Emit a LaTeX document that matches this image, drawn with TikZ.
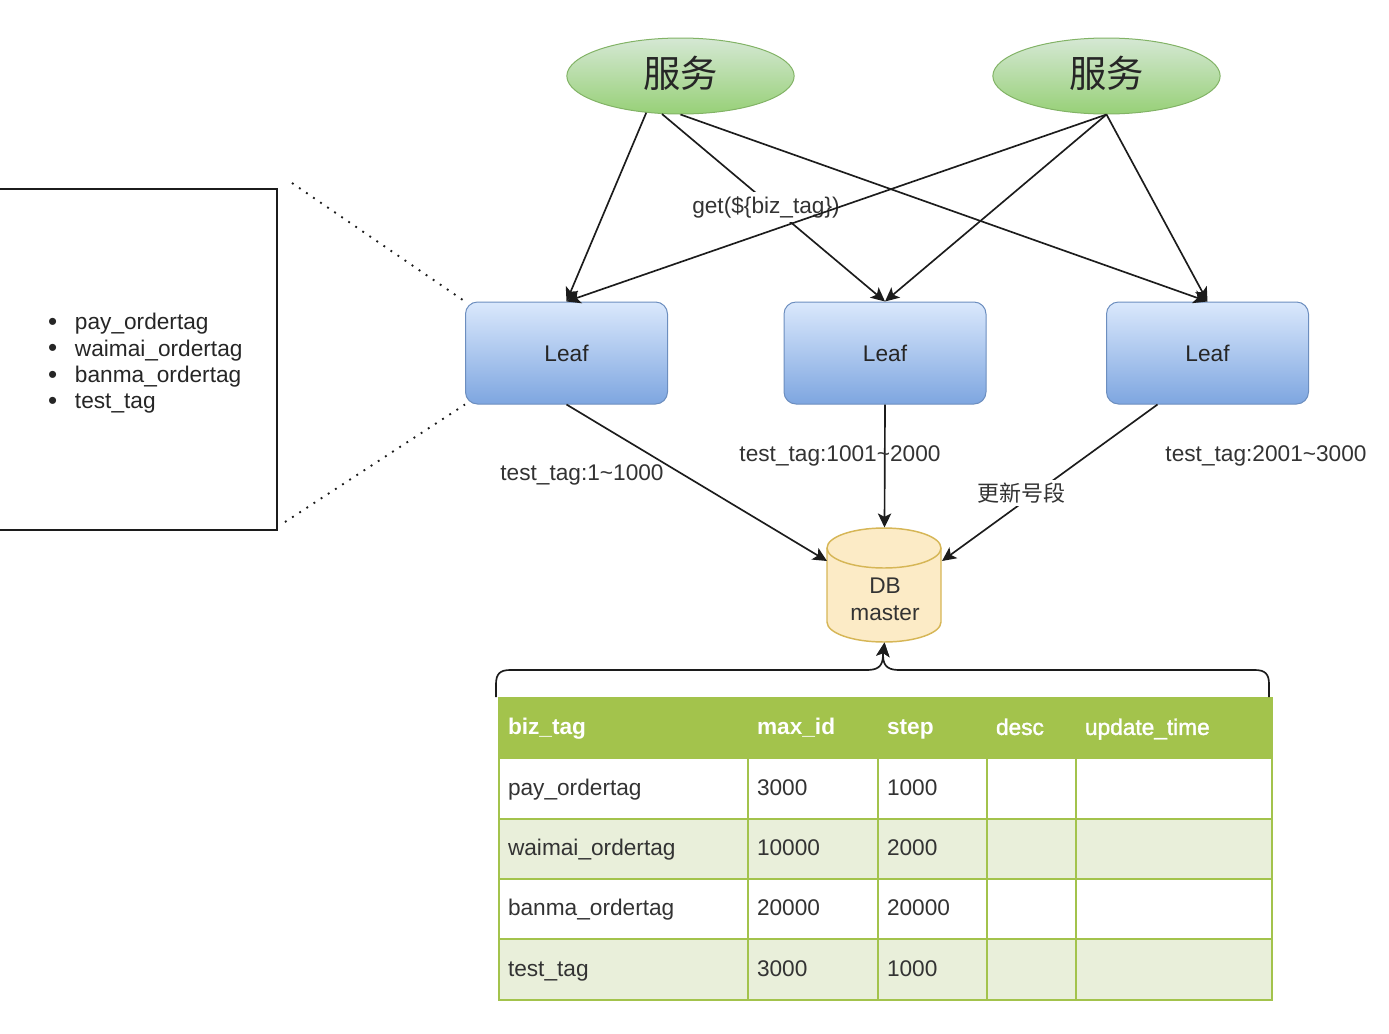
\documentclass[tikz,border=0pt]{standalone}
\usepackage{fontspec}
\setmainfont{Liberation Sans}
\newfontfamily\cjk{Noto Sans CJK SC}
\newfontface\fakebold[FakeBold=1.6]{Liberation Sans}
\usetikzlibrary{shapes.geometric,arrows.meta}
\definecolor{linecol}{HTML}{1C1C1C}
\definecolor{hdrgreen}{HTML}{A3C34C}
\definecolor{rowgreen}{HTML}{E9EFDA}
\definecolor{cellline}{HTML}{A3C34C}
\definecolor{svctop}{HTML}{D5E8D4}
\definecolor{svcbot}{HTML}{97D077}
\definecolor{svcline}{HTML}{82B366}
\definecolor{leaftop}{HTML}{DAE8FC}
\definecolor{leafbot}{HTML}{7EA6E0}
\definecolor{leafline}{HTML}{6C8EBF}
\definecolor{dbfill}{HTML}{FCEBC6}
\definecolor{dbline}{HTML}{D6B656}
\newcommand{\bigbullet}{\raisebox{-0.5pt}{\fontsize{19.5}{19.5}\selectfont\textbullet}\hspace{13.4pt}}
\tikzset{every picture/.style={line width=0.75pt},
  svc/.style={ellipse,draw=svcline,top color=svctop,bottom color=svcbot,minimum width=170.5pt,minimum height=57pt,inner sep=0pt,text height=24pt,text depth=7pt,font=\fontsize{28}{30}\selectfont\cjk,text=black!85},
  leaf/.style={rectangle,rounded corners=9pt,draw=leafline,top color=leaftop,bottom color=leafbot,minimum width=151.5pt,minimum height=76.5pt,inner sep=0pt,font=\fontsize{17}{20}\selectfont,text=black!85},
  lbl/.style={font=\fontsize{17}{20}\selectfont,text=black!80,inner sep=0pt},
  conn/.style={draw=linecol,line width=1.25pt,-{Stealth[length=10.5pt,width=10pt,inset=2.5pt]}},
  dots/.style={draw=linecol,line width=1.4pt,dash pattern=on 1.4pt off 5pt},
  cellbase/.style={draw=cellline,line width=1.1pt,anchor=north west,inner xsep=6.75pt,inner ysep=0pt,outer sep=0pt,align=left,font=\fontsize{17}{20}\selectfont},
  hdrcell/.style={cellbase,fill=hdrgreen,text=white,font=\fontsize{17}{20}\selectfont\bfseries},
  evencell/.style={cellbase,fill=white,text=black!80},
  oddcell/.style={cellbase,fill=rowgreen,text=black!80}}
\begin{document}
\begin{tikzpicture}[x=0.75pt,y=0.75pt,yscale=-1,xscale=1]
		\useasboundingbox (0,0) rectangle (1389,1033);

		%Shape: services
		\node (svc1) [svc] at (680.5,76) {服务};
		\node (svc2) [svc] at (1106.5,76) {服务};

		%Shape: leaves
		\node (leaf1) [leaf] at (566.5,353) {Leaf};
		\node (leaf2) [leaf] at (885,353) {Leaf};
		\node (leaf3) [leaf] at (1207.5,353) {Leaf};

		%Shape: db
		\draw [draw=dbline,fill=dbfill,line width=1.1pt] (827,548) .. controls (827,537) and (852.5,528) .. (884,528) .. controls (915.5,528) and (941,537) .. (941,548) -- (941,622) .. controls (941,633) and (915.5,642) .. (884,642) .. controls (852.5,642) and (827,633) .. (827,622) -- cycle ;
		\draw [draw=dbline,line width=1.1pt] (827,548) .. controls (827,559) and (852.5,568) .. (884,568) .. controls (915.5,568) and (941,559) .. (941,548) ;
		\node (db) [lbl,align=center,minimum width=85.5pt,minimum height=85.5pt] at (884.5,585) {};
		\node (dbtext) [lbl,align=center] at (885,599) {DB\\master};
		\coordinate (dbleft) at (827,561);
		\coordinate (dbright) at (942,561);

		%Shape: tag box
		\node (tagbox) [rectangle,draw=linecol,line width=1.2pt,anchor=north east,minimum width=216pt,minimum height=256pt] at (277.5,188) {};
		\node (taglist) [anchor=west,align=left,inner sep=0pt,font=\fontsize{17}{19.7}\selectfont,text=black!85] at (47.5,363.5) {\bigbullet pay\_ordertag\\\bigbullet waimai\_ordertag\\\bigbullet banma\_ordertag\\\bigbullet test\_tag};
		\coordinate (dotstart1) at (292,183);
		\coordinate (dotstart2) at (285,522);
		\draw [dots] (dotstart1) -- (leaf1.north west);
		\draw [dots] (dotstart2) -- (leaf1.south west);

		%service 1 to leaves
		\draw [conn] (svc1.227) -- (leaf1.north);
		\draw [conn] (svc1.244) -- (leaf2.north);
		\draw [conn] (svc1.south) -- (leaf3.north);
		\node (getlbl) [lbl,fill=white,inner ysep=3pt] at (766,207) {get(\$\{biz\_tag\})};
		%service 2 to leaves
		\draw [conn] (svc2.south) -- (leaf1.north);
		\draw [conn] (svc2.south) -- (leaf2.north);
		\draw [conn] (svc2.south) -- (leaf3.north);

		%leaves to db
		\draw [conn] (leaf1.south) -- (dbleft);
		\draw [conn] (leaf2.south) -- (db.north);
		\draw [conn] ([xshift=-37.5pt]leaf3.south) -- (dbright);
		\node (lbl1) [lbl] at (582,475) {test\_tag:1\textasciitilde1000};
		\node (lbl2) [lbl] at (840,456) {test\_tag:1001\textasciitilde2000};
		\node (lbl3) [lbl] at (1266,456) {test\_tag:2001\textasciitilde3000};
		\node (lbl4) [lbl,fill=white,font=\fontsize{16.5}{20}\selectfont\cjk,inner ysep=2pt] at (1021,493) {更新号段};

		%table
		\foreach \rowst/\ya/\h/\ca/\cb/\cc/\cd/\ce in {
			hdrcell/698/60/biz\_tag/max\_id/step/{\fakebold desc}/{\fakebold update\_time},
			evencell/758/61/pay\_ordertag/3000/1000//,
			oddcell/819/60/waimai\_ordertag/10000/2000//,
			evencell/879/60/banma\_ordertag/20000/20000//,
			oddcell/939/61/test\_tag/3000/1000//}{
			\foreach \n/\xa/\w/\txt in {1/499/249/\ca,2/748/130/\cb,3/878/109/\cc,4/987/89/\cd,5/1076/196/\ce}{
				\node (cell\ya-\n) [\rowst,text width={(\w-18)*0.75pt},minimum height=\h*0.75pt] at (\xa,\ya) {\rule[-6pt]{0pt}{22.4pt}\txt};
			}
		}

		%brace
		\coordinate (braceleft) at (496,697);
		\coordinate (braceright) at (1269,697);
		\draw [conn] (braceleft) -- (496,684) .. controls (496,674) and (500,670) .. (510,670) -- (866,670) .. controls (876,670) and (883,668) .. (883,655) -- (db.south);
		\draw [conn] (braceright) -- (1269,684) .. controls (1269,674) and (1265,670) .. (1255,670) -- (900,670) .. controls (890,670) and (883,668) .. (883,655) -- (db.south);
\end{tikzpicture}
\end{document}
